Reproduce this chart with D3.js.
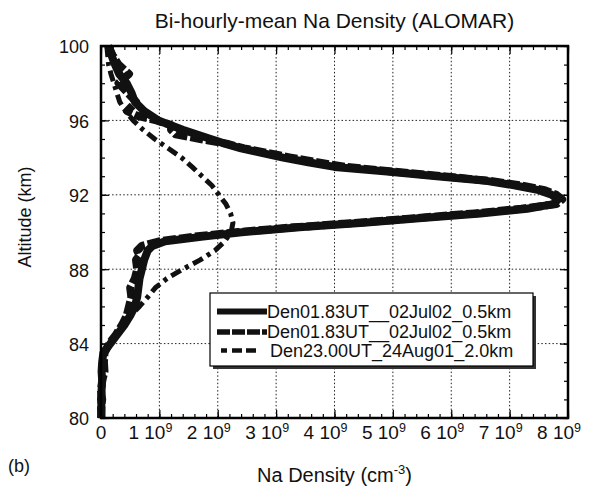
<!DOCTYPE html>
<html>
<head>
<meta charset="utf-8">
<script src="https://cdn.jsdelivr.net/npm/d3@7"></script>
<style>
  body { margin: 0; background: #fff; }
  text { font-family: "Liberation Sans", Arial, Helvetica, sans-serif; fill: #111; }
</style>
</head>
<body>
<svg id="chart" width="600" height="488"></svg>
<script>
// Na density profiles, densities in units of 10^9 cm^-3, altitudes in km
const altJul02Solid = [100, 99.5, 99, 98.5, 98, 97.5, 97, 96.5, 96, 95.5, 95,
  94.75, 94.5, 94.25, 94, 93.75, 93.5, 93.25, 93, 92.75, 92.5, 92.25, 92, 91.75, 91.5,
  91.25, 91, 90.75, 90.5, 90.25, 90, 89.75, 89.5, 89.25, 89,
  88.5, 88, 87.5, 87, 86.5, 86, 85.5, 85, 84.5, 84, 83.5, 83, 82.5, 82, 81.5, 81, 80.5, 80];
const denJul02Solid = [0.14, 0.18, 0.24, 0.31, 0.44, 0.52, 0.58, 0.74, 0.98, 1.40, 1.88,
  2.12, 2.40, 2.75, 3.12, 3.55, 4.0, 4.9, 5.75, 6.6, 7.1, 7.5, 7.72, 7.83, 7.75,
  7.3, 6.5, 5.5, 4.5, 3.4, 2.45, 1.75, 1.1, 0.88, 0.80,
  0.74, 0.70, 0.66, 0.64, 0.62, 0.58, 0.50, 0.40, 0.28, 0.16, 0.04, 0.02, 0.01, 0.02, 0.01, 0.0, 0.01, 0.0];

const altJul02Dashed = [100, 99.5, 99, 98.5, 98, 97.5, 97, 96.5,
  96.25, 96, 95.75, 95.5, 95.25, 95, 94.75, 94.5, 94.25, 94, 93.75, 93.5, 93.25, 93,
  92.75, 92.5, 92.25, 92, 91.75, 91.5, 91.25, 91, 90.75, 90.5, 90.25, 90, 89.75, 89.5,
  89.25, 89, 88.75,
  88.5, 88, 87.5, 87, 86.5, 86, 85.5, 85, 84.5, 84, 83.5, 83, 82.5, 82, 81.5, 81, 80.5, 80];
const denJul02Dashed = [0.12, 0.2, 0.3, 0.48, 0.3, 0.45, 0.6, 0.45,
  0.62, 0.95, 1.2, 1.2, 1.28, 1.7, 2.15, 2.45, 2.85, 3.25, 3.7, 4.2, 5.0, 5.85,
  6.65, 7.2, 7.6, 7.8, 7.9, 7.8, 7.2, 6.4, 5.4, 4.4, 3.3, 2.35, 1.6, 1.0,
  0.7, 0.62, 0.66,
  0.6, 0.62, 0.58, 0.5, 0.52, 0.48, 0.44, 0.36, 0.26, 0.14, 0.06, 0.05, 0.06, 0.02, 0.0, 0.02, 0.0, 0.01];

const altAug01 = [100, 99, 98.5, 98, 97.5, 97, 96.5, 96, 95.5, 95,
  94.5, 94, 93.5, 93, 92.5, 92, 91.5, 91, 90.5, 90,
  89.5, 89, 88.5, 88, 87.5, 87, 86.5, 86, 85.5, 85,
  84.5, 84, 83.5, 83, 82, 81, 80];
const denAug01 = [0.1, 0.13, 0.17, 0.22, 0.27, 0.32, 0.42, 0.55, 0.72, 0.92,
  1.15, 1.38, 1.56, 1.73, 1.9, 2.02, 2.14, 2.22, 2.26, 2.23,
  2.12, 1.95, 1.7, 1.4, 1.13, 0.93, 0.8, 0.66, 0.5, 0.38,
  0.26, 0.15, 0.05, 0.02, 0.01, 0.0, 0.0];

const seriesNames = ["Den01.83UT__02Jul02_0.5km", "Den01.83UT__02Jul02_0.5km", "Den23.00UT_24Aug01_2.0km"];
const xTickValues = [0, 1, 2, 3, 4, 5, 6, 7, 8];
const yTickValues = [80, 84, 88, 92, 96, 100];
const chartTitle = "Bi-hourly-mean Na Density (ALOMAR)";
const xAxisTitle = "Na Density (cm";
const yAxisTitle = "Altitude (km)";
const panelLabel = "(b)";

const svg = d3.select("#chart");
const plot = { left: 101, right: 568, top: 46, bottom: 418 };

const x = d3.scaleLinear().domain([0, 8]).range([plot.left, plot.right]);
const y = d3.scaleLinear().domain([80, 100]).range([plot.bottom, plot.top]);

// dotted grid at the major ticks
const grid = svg.append("g")
  .attr("stroke", "#222").attr("stroke-width", 1).attr("stroke-dasharray", "1.5,2.2");
grid.selectAll("line.gx").data(xTickValues.slice(1, -1)).join("line")
  .attr("class", "gx")
  .attr("x1", d => x(d)).attr("x2", d => x(d))
  .attr("y1", plot.top).attr("y2", plot.bottom);
grid.selectAll("line.gy").data(yTickValues.slice(1, -1)).join("line")
  .attr("class", "gy")
  .attr("y1", d => y(d)).attr("y2", d => y(d))
  .attr("x1", plot.left).attr("x2", plot.right);

// inward ticks on all four sides
const minorX = x.ticks(40);
const minorY = y.ticks(20);
function tickLayer(axis, tx, ty) {
  svg.append("g")
    .attr("transform", `translate(${tx},${ty})`)
    .style("color", "#000")
    .call(axis)
    .call(g => g.select(".domain").remove())
    .call(g => g.selectAll(".tick line").attr("stroke-width", 1.2));
}
tickLayer(d3.axisBottom(x).tickValues(minorX).tickSize(-4).tickFormat(""), 0, plot.bottom);
tickLayer(d3.axisBottom(x).tickValues(xTickValues).tickSize(-8).tickFormat(""), 0, plot.bottom);
tickLayer(d3.axisTop(x).tickValues(minorX).tickSize(-4).tickFormat(""), 0, plot.top);
tickLayer(d3.axisTop(x).tickValues(xTickValues).tickSize(-8).tickFormat(""), 0, plot.top);
tickLayer(d3.axisRight(y).tickValues(minorY).tickSize(-4).tickFormat(""), plot.right, 0);
tickLayer(d3.axisRight(y).tickValues(yTickValues).tickSize(-8).tickFormat(""), plot.right, 0);
tickLayer(d3.axisLeft(y).tickValues(minorY).tickSize(-4).tickFormat(""), plot.left, 0);

// left axis with altitude labels
svg.append("g")
  .attr("transform", `translate(${plot.left},0)`)
  .style("color", "#000")
  .call(d3.axisLeft(y).tickValues(yTickValues).tickSize(-8).tickPadding(12).tickFormat(d3.format("d")))
  .call(g => g.select(".domain").remove())
  .call(g => g.selectAll(".tick line").attr("stroke-width", 1.2))
  .call(g => g.selectAll(".tick text")
    .attr("font-family", "Liberation Sans, Arial, sans-serif")
    .attr("font-size", 18).attr("fill", "#111").attr("dy", "0.38em"));

// bottom labels: "k 10^9", with the power of ten centred on its tick
const xLabels = svg.append("g");
xTickValues.forEach(d => {
  const t = xLabels.append("text")
    .attr("y", 439)
    .attr("font-size", 19);
  if (d === 0) {
    t.attr("x", x(d)).attr("text-anchor", "middle").text("0");
  } else {
    t.attr("x", x(d) + 13).attr("text-anchor", "end");
    t.append("tspan").text(`${d} 10`);
    t.append("tspan").attr("dy", -7).attr("font-size", 12.5).text("9");
  }
});

// profiles
const line = d3.line().x(d => x(d[0])).y(d => y(d[1]));
const paths = [
  { den: denAug01, alt: altAug01, width: 5, dash: "11,5,4,5" },
  { den: denJul02Dashed, alt: altJul02Dashed, width: 8, dash: "13,3" },
  { den: denJul02Solid, alt: altJul02Solid, width: 8, dash: null }
];
paths.forEach(p => {
  svg.append("path")
    .datum(d3.zip(p.den, p.alt))
    .attr("d", line)
    .attr("fill", "none")
    .attr("stroke", "#111")
    .attr("stroke-width", p.width)
    .attr("stroke-linejoin", "round")
    .attr("stroke-dasharray", p.dash);
});

// frame
svg.append("rect")
  .attr("x", plot.left).attr("y", plot.top)
  .attr("width", plot.right - plot.left).attr("height", plot.bottom - plot.top)
  .attr("fill", "none").attr("stroke", "#000").attr("stroke-width", 2.5);

// legend with drop shadow
const lg = { x: 210, y: 293, w: 323, h: 73 };
svg.append("rect").attr("x", lg.x + 3).attr("y", lg.y + 3)
  .attr("width", lg.w).attr("height", lg.h).attr("fill", "#333");
svg.append("rect").attr("x", lg.x).attr("y", lg.y)
  .attr("width", lg.w).attr("height", lg.h)
  .attr("fill", "#fff").attr("stroke", "#000").attr("stroke-width", 1.2);
const legendStyles = [
  { width: 6, dash: null, x1: 217, x2: 267 },
  { width: 5.5, dash: "13,2", x1: 217, x2: 267 },
  { width: 4.5, dash: "6,5,10,4,10,4", x1: 221, x2: 258 }
];
const rowY = [311.5, 332, 350.5];
seriesNames.forEach((name, i) => {
  const s = legendStyles[i];
  svg.append("line")
    .attr("x1", s.x1).attr("x2", s.x2).attr("y1", rowY[i]).attr("y2", rowY[i])
    .attr("stroke", "#111").attr("stroke-width", s.width)
    .attr("stroke-dasharray", s.dash);
  svg.append("text")
    .attr("x", i === 2 ? 270 : 267).attr("y", rowY[i] + 6)
    .attr("font-size", 18)
    .text(name);
});

// titles
svg.append("text")
  .attr("x", (plot.left + plot.right) / 2).attr("y", 28)
  .attr("text-anchor", "middle").attr("font-size", 21)
  .text(chartTitle);

const xt = svg.append("text")
  .attr("x", (plot.left + plot.right) / 2).attr("y", 482)
  .attr("text-anchor", "middle").attr("font-size", 20);
xt.append("tspan").text(xAxisTitle);
xt.append("tspan").attr("dy", -8).attr("font-size", 13).text("-3");
xt.append("tspan").attr("dy", 8).text(")");

svg.append("text")
  .attr("transform", "translate(31,217) rotate(-90)")
  .attr("text-anchor", "middle").attr("font-size", 18)
  .text(yAxisTitle);

svg.append("text")
  .attr("x", 8).attr("y", 472)
  .attr("font-family", "Liberation Serif, Times New Roman, serif")
  .attr("font-size", 18)
  .text(panelLabel);
</script>
</body>
</html>
